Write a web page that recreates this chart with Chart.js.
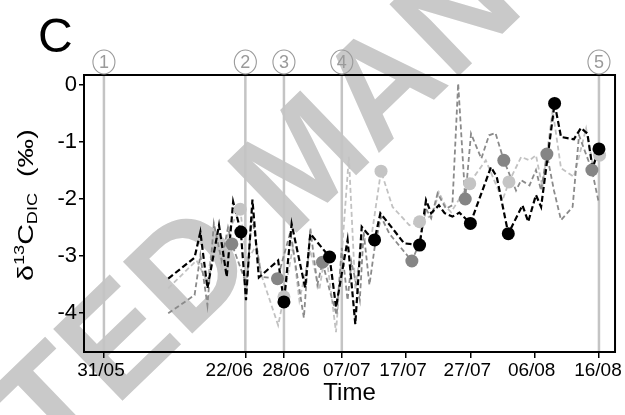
<!DOCTYPE html>
<html>
<head>
<meta charset="utf-8">
<script src="https://cdn.jsdelivr.net/npm/chart.js@4.4.1/dist/chart.umd.min.js"></script>
<style>
  html, body { margin: 0; padding: 0; background: #fff; }
  canvas { display: block; }
</style>
</head>
<body>
<canvas id="chart" width="625" height="415"></canvas>
<script>
// x positions are days since 31/05
const tickDays = [0, 22, 28, 37, 47, 57, 67, 77];
const tickLabels = ['31/05', '22/06', '28/06', '07/07', '17/07', '27/07', '06/08', '16/08'];
const yTicks = [-4, -3, -2, -1, 0];
const eventDays = [0, 22, 28, 37, 77];
const eventLabels = ['1', '2', '3', '4', '5'];

// dashed series
const blackDays = [10.0,14.1,15.0,16.1,17.9,19.1,20.1,21.3,22.1,23.1,24.1,27.1,28.0,29.2,31.3,32.1,35.1,36.1,37.9,39.1,40.1,41.0,42.1,43.0,44.9,46.7,49.1,50.1,50.9,52.1,53.0,54.2,55.3,57.0,60.2,61.1,62.9,65.1,66.0,67.2,68.0,70.1,71.1,73.1,74.2,75.2,76.0,77.0];
const blackVals = [-3.40,-3.03,-2.58,-3.57,-2.46,-3.37,-2.05,-2.58,-3.78,-2.01,-3.38,-3.08,-3.81,-2.44,-3.56,-2.61,-3.02,-3.90,-2.72,-4.20,-2.49,-2.61,-2.72,-2.25,-2.52,-2.78,-2.81,-2.02,-2.25,-2.11,-2.25,-2.31,-2.24,-2.43,-1.44,-1.61,-2.61,-2.11,-2.40,-1.93,-2.14,-0.32,-0.91,-0.95,-0.75,-0.85,-1.46,-1.12];

const darkDays = [10.0,14.1,15.0,16.1,17.1,18.3,19.3,19.9,22.2,23.0,24.5,27.0,29.0,31.1,32.1,33.2,34.0,35.1,36.2,37.0,37.9,38.5,39.8,40.4,41.3,42.1,43.1,44.4,47.9,49.1,50.1,50.9,51.9,53.2,54.2,55.1,56.2,57.1,58.7,59.9,60.9,62.2,64.1,64.9,66.2,67.2,68.0,68.9,70.0,71.1,72.9,73.9,75.9,77.0];
const darkVals = [-4.01,-3.69,-2.99,-3.87,-2.43,-3.08,-2.50,-2.79,-3.51,-2.28,-3.37,-3.40,-2.58,-4.09,-2.51,-3.51,-3.11,-3.60,-4.04,-2.86,-3.78,-3.11,-3.78,-2.58,-3.51,-2.86,-2.31,-2.61,-3.09,-2.77,-2.17,-2.34,-1.90,-2.17,-2.11,0.03,-2.00,-0.85,-1.29,-0.88,-0.84,-1.32,-1.85,-1.67,-1.76,-1.49,-1.85,-1.21,-1.85,-2.37,-2.14,-0.88,-1.49,-2.08];

const lightDays = [10.0,14.4,16.1,17.2,18.3,19.5,21.2,22.2,23.7,24.5,27.1,28.0,29.4,30.4,32.1,33.5,34.5,36.1,38.1,39.1,40.1,41.6,43.1,44.9,47.5,49.1,51.1,52.1,53.2,54.0,56.8,59.4,62.0,63.0,64.9,66.2,67.2,68.2,69.8,71.1,73.1,75.0,76.0,77.1];
const lightVals = [-3.57,-3.08,-3.46,-2.52,-3.25,-2.52,-2.18,-3.11,-2.81,-3.34,-4.22,-3.72,-2.84,-3.78,-2.90,-3.60,-2.90,-4.34,-1.26,-3.60,-2.72,-2.67,-1.51,-2.14,-2.46,-2.40,-2.28,-1.88,-2.14,-2.23,-1.73,-1.32,-2.02,-1.70,-1.26,-1.32,-1.23,-1.79,-0.44,-1.46,-1.61,-0.76,-1.38,-1.23];

// sampled points
const blackDotDays = [21.3, 28.0, 35.1, 42.1, 49.1, 57.0, 62.9, 70.1, 77.0];
const blackDotVals = [-2.58, -3.81, -3.02, -2.72, -2.81, -2.43, -2.61, -0.32, -1.12];
const darkDotDays = [19.9, 27.0, 34.0, 47.9, 56.2, 62.2, 68.9, 75.9];
const darkDotVals = [-2.79, -3.40, -3.11, -3.09, -2.00, -1.32, -1.21, -1.49];
const lightDotDays = [21.2, 28.0, 43.1, 49.1, 56.9, 63.0, 77.1];
const lightDotVals = [-2.18, -3.72, -1.51, -2.40, -1.73, -1.70, -1.23];

const FONT = '"Liberation Sans", Arial, Helvetica, sans-serif';
// small horizontal nudges of the date labels (the original spreads 22/06 and 28/06 apart)
const labelNudge = [-3, -16, 2, 5, -3, -3, -3, -1];

const pts = (xs, ys) => xs.map((x, i) => ({ x, y: ys[i] }));

const lineSet = (xs, ys, color, width, dash, order) => ({
  data: pts(xs, ys), showLine: true, borderColor: color, borderWidth: width,
  borderDash: dash, pointRadius: 0, tension: 0, order
});
const dotSet = (xs, ys, color, order) => ({
  data: pts(xs, ys), showLine: false, backgroundColor: color, borderWidth: 0,
  pointRadius: 6.5, order
});

const decor = {
  id: 'decor',
  beforeDraw(chart) {
    const ctx = chart.ctx;
    ctx.save();
    ctx.translate(308, 166);
    ctx.rotate(-44 * Math.PI / 180);
    ctx.font = 'bold 145px ' + FONT;
    ctx.fillStyle = '#c9c9c9';
    ctx.textAlign = 'center';
    ctx.textBaseline = 'middle';
    ctx.fillText('ACCEPTED MANUSCRIPT', 0, 0);
    ctx.restore();
  },
  beforeDatasetsDraw(chart) {
    const { ctx, chartArea: a, scales: { x } } = chart;
    ctx.save();
    ctx.strokeStyle = '#c4c4c4';
    ctx.lineWidth = 2.5;
    eventDays.forEach(d => {
      const px = x.getPixelForValue(d);
      ctx.beginPath(); ctx.moveTo(px, a.top); ctx.lineTo(px, a.bottom); ctx.stroke();
    });
    ctx.restore();
  },
  afterDraw(chart) {
    const { ctx, chartArea: a, scales: { x } } = chart;
    ctx.save();
    // frame
    ctx.strokeStyle = '#000'; ctx.lineWidth = 2;
    ctx.strokeRect(a.left, a.top, a.right - a.left, a.bottom - a.top);
    // date labels
    ctx.fillStyle = '#000';
    ctx.font = '19px ' + FONT; ctx.textAlign = 'center'; ctx.textBaseline = 'middle';
    tickDays.forEach((d, i) => {
      ctx.fillText(tickLabels[i], x.getPixelForValue(d) + labelNudge[i], a.bottom + 19);
    });
    // circled event numbers
    ctx.strokeStyle = '#9a9a9a'; ctx.fillStyle = '#9a9a9a'; ctx.lineWidth = 1.1;
    ctx.font = '18px ' + FONT;
    eventDays.forEach((d, i) => {
      const px = x.getPixelForValue(d);
      ctx.beginPath(); ctx.ellipse(px, 62, 11, 12, 0, 0, Math.PI * 2); ctx.stroke();
      ctx.fillText(eventLabels[i], px, 63);
    });
    // panel letter
    ctx.fillStyle = '#000'; ctx.textAlign = 'left'; ctx.textBaseline = 'alphabetic';
    ctx.font = '48px ' + FONT;
    ctx.fillText('C', 38, 52);
    // y axis title with super/subscripts
    ctx.translate(33, 281);
    ctx.rotate(-Math.PI / 2);
    ctx.scale(1.3, 1);
    const parts = [
      ['δ', 22, 0], ['13', 14, -9], ['C', 22, 0], ['DIC', 14, 4], ['  (‰)', 22, 0]
    ];
    let cx = 0;
    parts.forEach(([t, size, dy]) => {
      ctx.font = size + 'px ' + FONT;
      ctx.fillText(t, cx, dy);
      cx += ctx.measureText(t).width;
    });
    ctx.restore();
  }
};

new Chart(document.getElementById('chart'), {
  type: 'scatter',
  data: {
    datasets: [
      dotSet(blackDotDays, blackDotVals, '#000000', 0),
      dotSet(darkDotDays, darkDotVals, '#858585', 1),
      dotSet(lightDotDays, lightDotVals, '#c4c4c4', 2),
      lineSet(blackDays, blackVals, '#000000', 2.2, [6, 3], 3),
      lineSet(darkDays, darkVals, '#8a8a8a', 1.8, [5, 3], 4),
      lineSet(lightDays, lightVals, '#c2c2c2', 1.8, [5, 3], 5)
    ]
  },
  options: {
    responsive: false,
    animation: false,
    layout: { padding: { top: 75, right: 9, left: 0, bottom: 0 } },
    plugins: { legend: { display: false }, tooltip: { enabled: false } },
    scales: {
      x: {
        type: 'linear', min: -3.1, max: 79.5,
        afterBuildTicks: s => { s.ticks = tickDays.map(v => ({ value: v })); },
        afterFit: s => { s.height = 63; },
        border: { display: false },
        grid: { drawOnChartArea: false, drawTicks: true, tickLength: 6, color: '#000', lineWidth: 1.5 },
        ticks: {
          autoSkip: false, maxRotation: 0, padding: 2, color: 'rgba(0,0,0,0)',
          font: { family: FONT, size: 19 },
          callback: (v, i) => tickLabels[i]
        },
        title: { display: true, text: 'Time', color: '#000', font: { family: FONT, size: 24 }, padding: { top: 0, bottom: 7 } }
      },
      y: {
        min: -4.69, max: 0.18,
        afterBuildTicks: s => { s.ticks = yTicks.map(v => ({ value: v })); },
        afterFit: s => { s.width = 84; },
        border: { display: false },
        grid: { drawOnChartArea: false, drawTicks: true, tickLength: 5, color: '#000', lineWidth: 1.5 },
        ticks: {
          padding: 2, color: '#000', font: { family: FONT, size: 22 },
          callback: v => String(v)
        }
      }
    }
  },
  plugins: [decor]
});
</script>
</body>
</html>
